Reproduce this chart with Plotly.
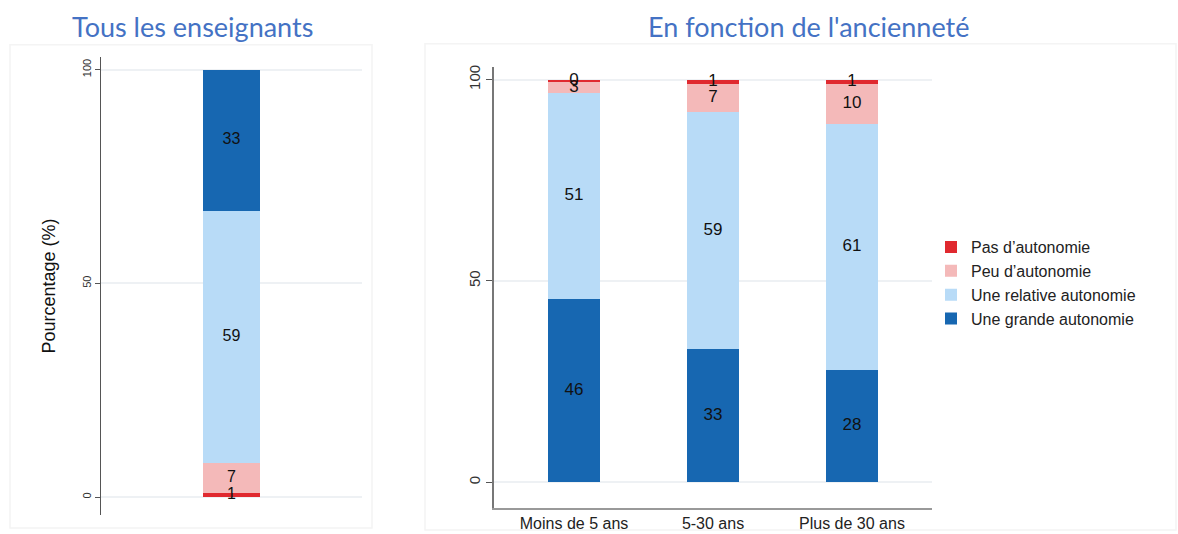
import plotly.graph_objects as go

# ---- data ----
series = ["Pas d\u2019autonomie", "Peu d\u2019autonomie", "Une relative autonomie", "Une grande autonomie"]
colors = ["#E0292F", "#F4B9B9", "#B8DBF7", "#1767B1"]

all_cat = ["Tous"]
all_vals = {
    "Pas d\u2019autonomie": [1],
    "Peu d\u2019autonomie": [7],
    "Une relative autonomie": [59],
    "Une grande autonomie": [33],
}

seniority_cats = ["Moins de 5 ans", "5-30 ans", "Plus de 30 ans"]
seniority_vals = {
    "Pas d\u2019autonomie": [0.4, 1, 1],
    "Peu d\u2019autonomie": [3, 7, 10],
    "Une relative autonomie": [51, 59, 61],
    "Une grande autonomie": [45.6, 33, 28],
}

title_left = "Tous les enseignants"
title_right = "En fonction de l'ancienneté"
y_title = "Pourcentage (%)"
y_ticks = [0, 50, 100]

W, H = 1178, 534
fig = go.Figure()

def add_stack(cats, vals, order, xa, ya, width, fsize, showlegend):
    base = [0.0] * len(cats)
    for i in order:
        name, col = series[i], colors[i]
        v = vals[name]
        fig.add_trace(go.Bar(
            x=cats, y=v, name=name, marker=dict(color=col, line=dict(width=0)),
            width=width, xaxis=xa, yaxis=ya, showlegend=showlegend,
            legendgroup=name, legendrank=i + 1, hoverinfo="skip"))
        mids = [b + val / 2 for b, val in zip(base, v)]
        fig.add_trace(go.Scatter(
            x=cats, y=mids, mode="text", text=[f"{val:.0f}" for val in v],
            textfont=dict(family="Liberation Sans, Arial", size=fsize, color="#111"),
            textposition="middle center", xaxis=xa, yaxis=ya,
            showlegend=False, hoverinfo="skip"))
        base = [b + val for b, val in zip(base, v)]

# left: "Pas" at the bottom; right: "Une grande" at the bottom
add_stack(all_cat, all_vals, [0, 1, 2, 3], "x", "y", 0.222, 16, False)
add_stack(seniority_cats, seniority_vals, [3, 2, 1, 0], "x2", "y2", 0.374, 17, True)

def px(x):
    return x / W

def py(y):
    return 1 - y / H

# panel frames
shapes = [
    dict(type="rect", xref="paper", yref="paper", x0=px(10), x1=px(372), y0=py(528), y1=py(43),
         line=dict(color="#F4F4F4", width=1.5), fillcolor="rgba(0,0,0,0)", layer="below"),
    dict(type="rect", xref="paper", yref="paper", x0=px(425), x1=px(1176), y0=py(530), y1=py(42),
         line=dict(color="#F4F4F4", width=1.5), fillcolor="rgba(0,0,0,0)", layer="below"),
]

fig.update_layout(
    width=W, height=H, margin=dict(l=0, r=0, t=0, b=0),
    paper_bgcolor="white", plot_bgcolor="white",
    barmode="stack", shapes=shapes,
    font=dict(family="Liberation Sans, Arial", color="#222"),
    legend=dict(x=px(931), y=py(229), xanchor="left", yanchor="top", traceorder="normal",
                font=dict(size=16, color="#222"), itemwidth=30, tracegroupgap=0,
                bgcolor="rgba(0,0,0,0)"),
    xaxis=dict(domain=[px(101), px(362)], range=[-0.5, 0.5], showticklabels=False,
               showline=False, showgrid=False, zeroline=False, ticks=""),
    yaxis=dict(domain=[py(515), py(55)], range=[-4.2, 103.0], tickvals=y_ticks,
               tickangle=-90, tickfont=dict(size=11, color="#333"),
               ticks="outside", ticklen=5, tickcolor="#555",
               showline=True, linecolor="#555", linewidth=1.2,
               showgrid=True, gridcolor="#EEF1F4", gridwidth=1.5, zeroline=False,
               title=dict(text=y_title, font=dict(size=18, color="#111"), standoff=20)),
    xaxis2=dict(domain=[px(494), px(932)], range=[-0.576, 2.576], anchor="y2",
                tickfont=dict(size=16, color="#222"), ticks="", showline=True,
                linecolor="#999", linewidth=2, showgrid=False, zeroline=False),
    yaxis2=dict(domain=[py(508), py(65)], range=[-6.4, 103.2], anchor="x2", tickvals=y_ticks,
                tickangle=-90, tickfont=dict(size=15, color="#333"),
                ticks="outside", ticklen=6, tickcolor="#555",
                showline=True, linecolor="#777", linewidth=1.5,
                showgrid=True, gridcolor="#EEF1F4", gridwidth=1.5, zeroline=False),
)

fig.add_annotation(text=title_left, xref="paper", yref="paper", x=px(192), y=py(25),
                   xanchor="center", yanchor="middle", showarrow=False,
                   font=dict(family="Lato, Open Sans", size=27, color="#4472C4"))
fig.add_annotation(text=title_right, xref="paper", yref="paper", x=px(808), y=py(25),
                   xanchor="center", yanchor="middle", showarrow=False,
                   font=dict(family="Lato, Open Sans", size=27, color="#4472C4"))

fig.write_html("out.html", config={"displayModeBar": False},
               post_script="document.body.style.margin='0';document.body.style.overflow='hidden';")
